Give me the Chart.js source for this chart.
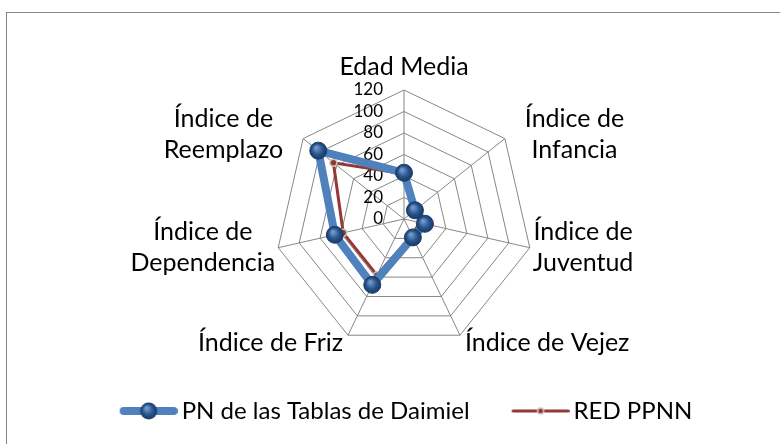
<!DOCTYPE html>
<html>
<head>
<meta charset="utf-8">
<script src="https://cdn.jsdelivr.net/npm/chart.js@4.4.0/dist/chart.umd.min.js"></script>
<style>
  html, body { margin: 0; padding: 0; background: #fff; overflow: hidden; }
  #frame { position: absolute; left: 6px; top: 12px; width: 900px; height: 600px; border: 1.5px solid #878787; }
  #wrap { position: absolute; left: 0; top: 0; width: 780px; height: 444px; }
</style>
</head>
<body>
<div id="frame"></div>
<div id="wrap"><canvas id="radar" width="780" height="444"></canvas></div>
<script>
const categories = [
  'Edad Media',
  ['Índice de', 'Infancia'],
  ['Índice de', 'Juventud'],
  'Índice de Vejez',
  'Índice de Friz',
  ['Índice de', 'Dependencia'],
  ['Índice de', 'Reemplazo'],
];
const seriesNames = ['PN de las Tablas de Daimiel', 'RED PPNN'];
const daimielValues = [43, 13, 20, 19, 68, 66, 102];
const redValues = [42, 14, 15, 17, 58, 58, 84];
const tickValues = [0, 20, 40, 60, 80, 100, 120];

const FONT = 'Lato';
const LABEL_SIZE = 25;
const LABEL_LINE = 31;
const BLUE = '#4f81bd';
const BLUE_MARK = '#264f82';
const RED = '#953735';

// shaded ball like the Excel marker
function ballGradient(ctx, x, y, r) {
  const g = ctx.createRadialGradient(x - r * 0.25, y - r * 0.35, 1, x, y, r);
  g.addColorStop(0, '#6f98cc');
  g.addColorStop(0.55, '#2b5690');
  g.addColorStop(1, '#183860');
  return g;
}

// legend swatch: line with marker, drawn on the right part of the image
function legendSwatch(color, width, markColor, markBorder, radius) {
  const c = document.createElement('canvas');
  c.width = 98;
  c.height = 20;
  const ctx = c.getContext('2d');
  const x0 = c.width - 58;
  ctx.strokeStyle = color;
  ctx.lineWidth = width;
  ctx.lineCap = 'round';
  ctx.beginPath();
  ctx.moveTo(x0 + width / 2, 10);
  ctx.lineTo(c.width - width / 2, 10);
  ctx.stroke();
  ctx.beginPath();
  ctx.arc(x0 + 29, 10, radius, 0, Math.PI * 2);
  ctx.fillStyle = markColor === 'ball' ? ballGradient(ctx, x0 + 29, 10, radius) : markColor;
  ctx.fill();
  if (markBorder) {
    ctx.lineWidth = 1.5;
    ctx.strokeStyle = markBorder;
    ctx.stroke();
  }
  return c;
}

const swatches = [
  legendSwatch(BLUE, 8, 'ball', null, 8.5),
  legendSwatch(RED, 3, RED, '#c8c8c8', 3),
];

// Excel style labels: ticks left of the vertical axis, category labels
// centred on the side vertices
const excelLabelsPlugin = {
  id: 'excelLabels',
  beforeDatasetsDraw(chart) {
    const scale = chart.scales.r;
    const { ctx } = chart;
    ctx.save();
    ctx.fillStyle = '#000';
    ctx.textBaseline = 'middle';

    ctx.font = `17px ${FONT}`;
    ctx.textAlign = 'right';
    tickValues.forEach(v => {
      const y = scale.yCenter - scale.getDistanceFromCenterForValue(v);
      ctx.fillText(String(v), scale.xCenter - 21, y);
    });

    ctx.font = `${LABEL_SIZE}px ${FONT}`;
    ctx.textAlign = 'center';
    categories.forEach((label, i) => {
      const lines = Array.isArray(label) ? label : [label];
      const p = scale.getPointPosition(i, scale.drawingArea);
      const ux = (p.x - scale.xCenter) / scale.drawingArea;
      const uy = (p.y - scale.yCenter) / scale.drawingArea;
      const w = Math.max(...lines.map(l => ctx.measureText(l).width));
      const h = lines.length * LABEL_LINE;
      let cx = p.x;
      let cy = p.y - 8 - h / 2;
      if (Math.abs(ux) > 0.1) {
        const side = Math.sign(ux);
        let gap = 3;
        cy = p.y;
        if (uy < -0.3) {
          gap = 20;
          cy = p.y - 4;
        } else if (uy > 0.6) {
          gap = 5;
          cy = p.y + 8;
        }
        cx = p.x + side * (gap + w / 2);
      }
      lines.forEach((l, k) => {
        ctx.fillText(l, cx, cy - h / 2 + LABEL_LINE * (k + 0.5));
      });
    });
    ctx.restore();
  },
};

const ctx = document.getElementById('radar').getContext('2d');

new Chart(ctx, {
  type: 'radar',
  data: {
    labels: categories,
    datasets: [
      {
        label: seriesNames[0],
        data: daimielValues,
        borderColor: BLUE,
        borderWidth: 8,
        pointRadius: 8.5,
        pointBackgroundColor(context) {
          if (context.type !== 'data') return BLUE_MARK;
          const p = context.chart.scales.r.getPointPositionForValue(
            context.dataIndex,
            context.raw
          );
          return ballGradient(context.chart.ctx, p.x, p.y, 8.5);
        },
        pointBorderColor: '#1d3f6b',
        pointBorderWidth: 1,
        fill: false,
        tension: 0,
      },
      {
        label: seriesNames[1],
        data: redValues,
        borderColor: RED,
        borderWidth: 3,
        pointRadius: 3.5,
        pointBackgroundColor: RED,
        pointBorderColor: '#c8c8c8',
        pointBorderWidth: 1.5,
        fill: false,
        tension: 0,
      },
    ],
  },
  options: {
    responsive: false,
    animation: false,
    layout: { padding: { left: 0, right: 0, top: 90, bottom: 11 } },
    plugins: {
      tooltip: { enabled: false },
      // empty left title, only used to push the plot area to the right
      title: {
        display: true,
        position: 'left',
        text: '',
        font: { size: 10, lineHeight: 1 },
        padding: { top: 18, bottom: 0 },
      },
      legend: {
        position: 'bottom',
        // empty legend title keeps the legend row low in the frame
        title: {
          display: true,
          text: '',
          color: '#000',
          font: { size: 10, lineHeight: 1 },
          padding: { top: 31, bottom: 0 },
        },
        labels: {
          usePointStyle: true,
          pointStyleWidth: 82,
          padding: 10,
          color: '#000',
          font: { family: FONT, size: 24 },
          generateLabels(chart) {
            return chart.data.datasets.map((ds, i) => ({
              text: ds.label,
              fontColor: '#000',
              pointStyle: swatches[i],
              datasetIndex: i,
              hidden: false,
              lineWidth: 0,
            }));
          },
        },
      },
    },
    scales: {
      r: {
        min: 0,
        max: 120,
        ticks: { stepSize: 20, display: false },
        grid: { color: '#868686', lineWidth: 1, circular: false },
        angleLines: { color: '#868686', lineWidth: 1 },
        pointLabels: { display: false },
      },
    },
  },
  plugins: [excelLabelsPlugin],
});
</script>
</body>
</html>
